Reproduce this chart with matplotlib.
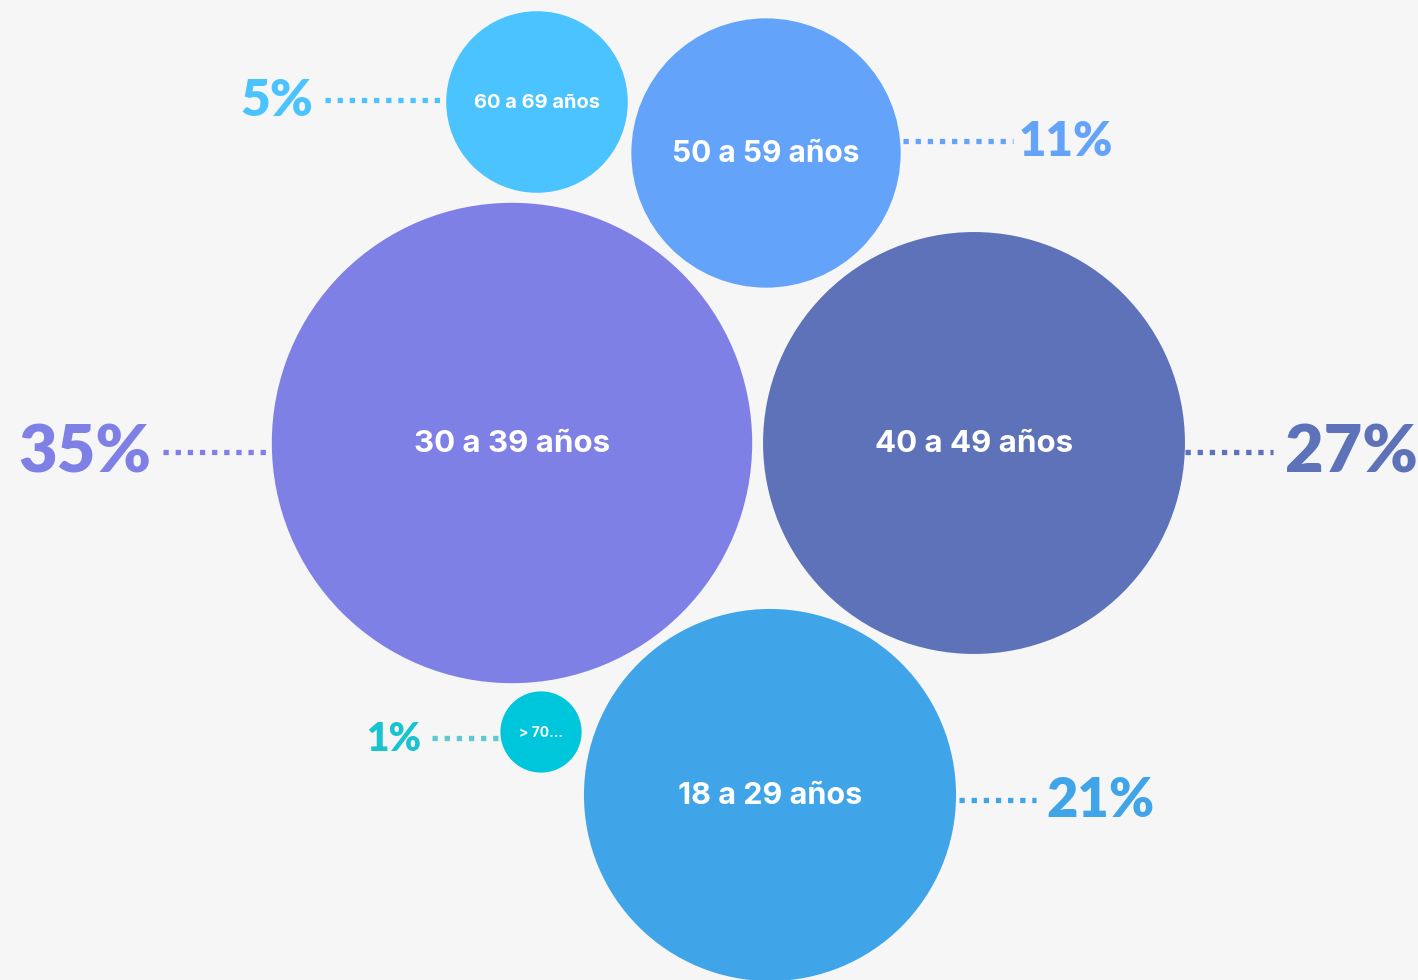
import numpy as np
import matplotlib
matplotlib.use("Agg")
from matplotlib import pyplot as plt
from matplotlib.patches import Circle

# ------------------------------------------
# Data
# ------------------------------------------
groups = ["30 a 39 años", "40 a 49 años", "18 a 29 años",
          "50 a 59 años", "60 a 69 años", "> 70..."]
shares = [35, 27, 21, 11, 5, 1]

# ------------------------------------------
# Layout (pixel space of a 1418x980 canvas)
# ------------------------------------------
colors = ["#7f80e6", "#5d72b8", "#40a5e8", "#63a4fa", "#4bc3fe", "#00c6dc"]
pct_colors = ["#7f80e6", "#5d72b8", "#40a5e8", "#63a4fa", "#4bc3fe", "#19c3d0"]
line_colors = ["#7f80e6", "#5d72b8", "#40a5e8", "#63a4fa", "#4bc3fe", "#5ccbd1"]
centers = [(512, 443), (974, 443), (770, 795), (766, 153), (537, 102), (541, 732)]
label_size = [22.5, 22.5, 22, 21.5, 14.5, 10]
# leader line: (x start, x end, y), percent text anchor x and alignment
leaders = [(163, 272, 452), (1185, 1273, 452), (959, 1036, 800),
           (903, 1013, 141), (325, 445, 100), (432, 508, 738)]
pct_pos = [(151, 'right'), (1285, 'left'), (1046, 'left'),
           (1019, 'left'), (313, 'right'), (421, 'right')]
pct_size = [48, 48, 39, 34, 37, 28]
scale = 40.6  # px per sqrt(percent) -> bubble area proportional to share

plt.rcParams['font.family'] = ['Lato', 'DejaVu Sans']

fig = plt.figure(figsize=(14.18, 9.8), dpi=100, facecolor="#f7f6f6")
ax = fig.add_axes([0, 0, 1, 1])
ax.set_xlim(0, 1418)
ax.set_ylim(980, 0)
ax.set_aspect('equal')
ax.axis('off')

for name, val, col, (cx, cy), fs in zip(groups, shares, colors, centers, label_size):
    r = scale * np.sqrt(val)
    ax.add_patch(Circle((cx, cy), r, color=col, zorder=2, lw=0))
    ax.text(cx, cy + 1, name, color="white", fontsize=fs, fontweight='bold',
            family=['Inter', 'DejaVu Sans'], ha='center', va='center', zorder=3)

for val, pc, lc, (x0, x1, y), (tx, ha), fs in zip(shares, pct_colors, line_colors,
                                                  leaders, pct_pos, pct_size):
    ax.plot([x0, x1], [y, y], color=lc, lw=3.8, linestyle=(0, (1, 1.3)),
            dash_capstyle='butt', zorder=1)
    ax.text(tx, y + 1, f"{val}%", color=pc, fontsize=fs, fontweight='heavy',
            ha=ha, va='center', zorder=3)

fig.savefig("out.png", dpi=100, facecolor=fig.get_facecolor())
